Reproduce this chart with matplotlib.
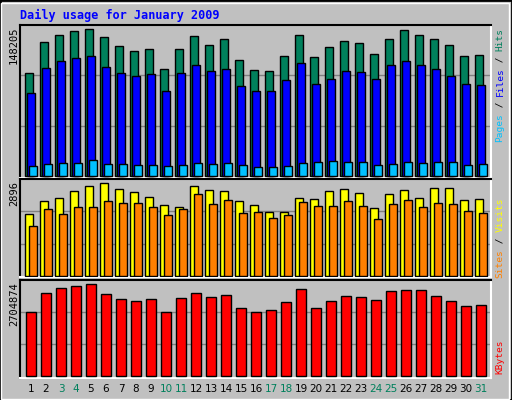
import matplotlib
matplotlib.use("Agg")
import matplotlib.pyplot as plt
import numpy as np
from matplotlib.patches import Rectangle

days = list(range(1, 32))
weekend = [3, 4, 10, 11, 17, 18, 24, 25, 31]
hits = [101200, 131500, 138400, 142300, 144300, 136400, 127600, 122700, 124700, 105100,
        124700, 137400, 128600, 134500, 113900, 104200, 103200, 117800, 138400, 116900,
        126700, 132500, 130600, 119800, 134500, 143300, 138400, 134500, 128600, 117800, 118800]
files = [81700, 106100, 113000, 115900, 117800, 107100, 101200, 98300, 100200, 83600,
         101200, 109000, 103200, 105100, 88500, 83600, 83600, 94400, 111000, 90500,
         95400, 103200, 102200, 95400, 109000, 113000, 109000, 105100, 98300, 90500, 89500]
pages = [10300, 12200, 13200, 13200, 16100, 12200, 12200, 11200, 11200, 10300,
         11200, 13200, 12200, 13200, 11200, 9300, 9300, 10300, 13200, 14200,
         15200, 14200, 14200, 11200, 12200, 14200, 13200, 14200, 14200, 11200, 12200]
visits = [1861, 2253, 2343, 2524, 2675, 2766, 2585, 2494, 2373, 2132, 2072, 2675, 2554,
          2524, 2253, 2132, 1921, 1921, 2343, 2313, 2524, 2585, 2464, 2042, 2434, 2554,
          2343, 2615, 2615, 2283, 2313]
sites = [1499, 2011, 1861, 2072, 2072, 2253, 2192, 2192, 2072, 1830, 2011, 2434, 2162,
         2283, 1891, 1921, 1740, 1830, 2223, 2102, 2102, 2253, 2102, 1710, 2162, 2283,
         2072, 2192, 2162, 1951, 1891]
kbytes = [1795700, 2334400, 2476200, 2532900, 2589600, 2306000, 2164300, 2107600, 2164300,
          1795700, 2192600, 2334400, 2221000, 2277700, 1909100, 1795700, 1852400, 2079200,
          2447800, 1909100, 2107600, 2249300, 2221000, 2135900, 2391100, 2419500, 2419500,
          2249300, 2107600, 1965800, 1994200]
max_hits, max_visits, max_kb = 148205, 2896, 2704874

C_HITS, C_FILES, C_PAGES = "#00805c", "#0000ff", "#00c0ff"
C_VIS, C_SITES, C_KB = "#ffff00", "#ff8000", "#ff0000"
BG = "#c0c0c0"
W, H = 512, 400

fig = plt.figure(figsize=(5.12, 4.0), dpi=100, facecolor=BG)
fig.patches.append(Rectangle((0, 0), 1, 1, transform=fig.transFigure, fill=False,
                             edgecolor="black", linewidth=2))
fig.patches.append(Rectangle((1/W, 1/H), 1-4/W, 1-4/H, transform=fig.transFigure, fill=False,
                             edgecolor="white", linewidth=1))

def ax_px(l, t, r, b):
    ax = fig.add_axes([l/W, 1-b/H, (r-l)/W, (b-t)/H])
    ax.set_facecolor(BG)
    ax.spines["top"].set_color("black"); ax.spines["left"].set_color("black")
    ax.spines["bottom"].set_color("white"); ax.spines["right"].set_color("white")
    for s in ax.spines.values():
        s.set_linewidth(1.5)
    ax.set_xticks([]); ax.tick_params(left=False, labelleft=False)
    ax.set_xlim(0, 471/15)
    return ax

x = np.array(days) - 1 + 1/3
bw = 8/15
kw = dict(edgecolor="black", linewidth=1.0, align="edge", zorder=3)

ax1 = ax_px(20, 25, 491, 178)
ax1.set_ylim(-1.5*max_hits/151, max_hits)
ax1.bar(x, hits, bw, color=C_HITS, **kw)
ax1.bar(x + 2/15, files, bw, color=C_FILES, **kw)
ax1.bar(x + 4/15, pages, bw, color=C_PAGES, **kw)

ax2 = ax_px(20, 179, 491, 277)
ax2.set_ylim(-1*max_visits/96, max_visits)
ax2.bar(x, visits, bw, color=C_VIS, **kw)
ax2.bar(x + 4/15, sites, bw, color=C_SITES, **kw)

ax3 = ax_px(20, 280, 491, 378)
ax3.set_ylim(-2*max_kb/95, max_kb)
ax3.bar(x + 1/15, kbytes, 10/15, color=C_KB, **kw)

for ax, m in ((ax1, max_hits), (ax2, max_visits), (ax3, max_kb)):
    for f in (1/3, 2/3):
        ax.axhline(m*f, color="#808080", linewidth=1, zorder=1)

mono = "DejaVu Sans Mono"
fig.text(20/W, 1-15/H, "Daily usage for January 2009", color="#0000ff", fontsize=8.5,
         fontweight="bold", family=mono, va="center", ha="left")
for top, lbl in ((27, str(max_hits)), (181, str(max_visits)), (282, str(max_kb))):
    fig.text(14/W, 1-top/H, lbl, rotation=90, fontsize=7.5, family=mono,
             ha="center", va="top")

FS = 6.8
cw = FS * 0.602 * 100 / 72
def vlabel(pieces, top):
    total = sum(len(p) for p, _ in pieces) * cw
    y = top + total
    for p, c in pieces:
        if p.strip():
            fig.text(500/W, 1-y/H, p, rotation=90, fontsize=FS, family=mono, color=c,
                     ha="center", va="bottom")
        y -= len(p) * cw

vlabel([("Pages", C_PAGES), (" / ", "black"), ("Files", C_FILES), (" / ", "black"), ("Hits", C_HITS)], 28)
vlabel([("Sites", C_SITES), (" / ", "black"), ("Visits", C_VIS)], 198)
vlabel([("KBytes", C_KB)], 340)

for d, xi in zip(days, x):
    col = C_HITS if d in weekend else "black"
    xp = 20 + (xi + 0.4) * 15
    fig.text(xp/W, 1-389/H, str(d), fontsize=7.5, color=col, ha="center", va="center")

fig.savefig("out.png", dpi=100, facecolor=BG)
